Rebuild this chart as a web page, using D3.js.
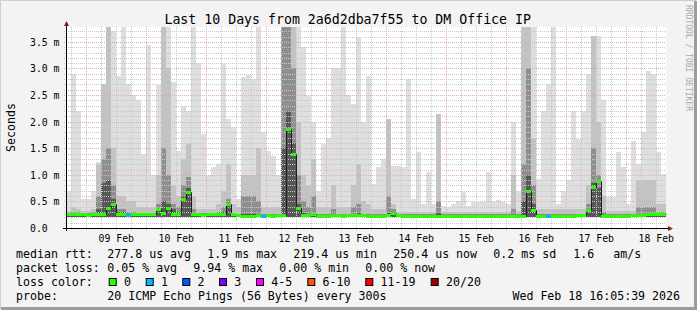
<!DOCTYPE html>
<html>
<head>
<meta charset="utf-8">
<script src="https://cdn.jsdelivr.net/npm/d3@7"></script>
<style>
body { margin: 0; background: #f3f3f3; }
svg text { font-family: "DejaVu Sans Mono", monospace; fill: #000; }
</style>
</head>
<body>
<div id="chart"></div>
<script>
// Step 1: data (2 hour columns, values in ms)
//= ================================
var startTime = new Date(Date.UTC(2026, 1, 8, 16, 5, 39));
var endTime = new Date(Date.UTC(2026, 1, 18, 16, 5, 39));
var stepMs = 2 * 3600 * 1000;
var minRtt = 0.21;

// lightest smoke (max ping)
var smokeTop = [
    0.7, 2.9, 2.2, 0.55, 0.55, 0.7, 1.24, 2.7, 3.8, 3.7,
    2.85, 3.8, 2.7, 2.5, 2.4, 1.4, 3.45, 1.0, 2.68, 3.8,
    3.8, 2.74, 1.45, 2.3, 2.2, 3.8, 3.1, 1.77, 1.0, 1.15,
    1.2, 3.09, 2.05, 1.9, 0.55, 2.84, 2.87, 2.8, 3.8, 1.8,
    1.45, 1.35, 1.0, 3.8, 3.8, 3.8, 3.8, 3.4, 2.49, 2.0,
    0.7, 1.58, 1.7, 3.0, 3.0, 3.8, 2.5, 2.33, 3.6, 2.0,
    2.85, 0.83, 1.14, 1.3, 2.05, 1.17, 1.17, 1.14, 2.8, 0.55,
    1.42, 0.45, 1.05, 0.45, 2.15, 0.42, 0.4, 0.45, 0.5, 0.68,
    0.42, 0.48, 0.48, 0.48, 1.05, 0.48, 0.52, 0.48, 0.45, 1.99,
    0.7, 3.8, 3.8, 3.8, 0.92, 2.2, 2.7, 3.8, 0.45, 0.7,
    0.9, 2.2, 1.68, 2.2, 2.9, 3.62, 3.62, 2.4, 0.58, 0.58,
    1.42, 1.14, 0.45, 1.64, 1.2, 1.8, 2.96, 2.9, 1.42, 1.02
];
// second smoke band
var smokeMid = [
    0.32, 0.4, 0.35, 0.32, 0.32, 0.35, 1.2, 2.7, 3.8, 1.5,
    0.6, 0.6, 0.5, 0.5, 0.4, 0.4, 0.4, 0.4, 1.0, 3.8,
    3.0, 0.8, 0.6, 1.3, 1.6, 0.6, 0.35, 0.35, 0.35, 0.35,
    0.45, 0.7, 1.2, 0.45, 0.4, 1.0, 1.0, 1.0, 1.5, 0.4,
    0.4, 0.4, 0.4, 3.8, 3.8, 3.8, 2.0, 1.0, 0.8, 1.3,
    0.4, 0.4, 0.4, 0.8, 0.4, 0.4, 0.4, 0.8, 1.2, 0.5,
    0.45, 0.35, 0.35, 0.35, 2.05, 0.45, 0.3, 0.3, 0.3, 0.3,
    0.3, 0.3, 0.3, 0.3, 2.15, 0.3, 0.3, 0.3, 0.3, 0.3,
    0.3, 0.3, 0.3, 0.3, 0.3, 0.3, 0.3, 0.3, 0.3, 1.0,
    0.32, 3.8, 3.8, 1.7, 0.35, 0.35, 0.35, 0.35, 0.35, 0.35,
    0.35, 0.35, 0.35, 0.35, 0.8, 3.62, 2.0, 0.6, 0.32, 0.32,
    0.32, 0.32, 0.32, 0.32, 0.9, 0.9, 0.9, 0.9, 0.45, 0.45
];
// third smoke band
var smokeDark = [
    0.28, 0.3, 0.3, 0.28, 0.28, 0.3, 0.6, 1.3, 1.5, 0.8,
    0.35, 0.35, 0.3, 0.3, 0.28, 0.28, 0.28, 0.28, 0.45, 1.5,
    1.0, 0.45, 0.4, 0.8, 0.95, 0.35, 0.28, 0.28, 0.28, 0.28,
    0.3, 0.4, 0.55, 0.27, 0.26, 0.6, 0.6, 0.6, 0.5, 0.26,
    0.26, 0.26, 0.26, 3.8, 3.8, 3.0, 1.0, 0.5, 0.4, 0.6,
    0.26, 0.26, 0.26, 0.35, 0.26, 0.26, 0.26, 0.4, 0.45, 0.26,
    0.26, 0.26, 0.26, 0.26, 0.6, 0.35, 0.26, 0.26, 0.26, 0.26,
    0.26, 0.26, 0.26, 0.26, 0.5, 0.26, 0.26, 0.26, 0.26, 0.26,
    0.26, 0.26, 0.26, 0.26, 0.26, 0.26, 0.26, 0.26, 0.26, 0.35,
    0.26, 1.2, 3.0, 0.8, 0.26, 0.26, 0.26, 0.26, 0.26, 0.26,
    0.26, 0.26, 0.26, 0.26, 0.45, 1.5, 1.0, 0.3, 0.26, 0.26,
    0.26, 0.26, 0.26, 0.26, 0.4, 0.4, 0.4, 0.4, 0.3, 0.3
];
// darkest smoke band
var smokeCore = [
    0.26, 0.26, 0.26, 0.26, 0.26, 0.26, 0.35, 0.85, 0.9, 0.55,
    0.3, 0.3, 0.26, 0.26, 0.26, 0.26, 0.26, 0.26, 0.32, 0.5,
    0.45, 0.35, 0.3, 0.6, 0.75, 0.26, 0.26, 0.26, 0.26, 0.26,
    0.26, 0.3, 0.45, 0.25, 0.24, 0.26, 0.26, 0.26, 0.25, 0.24,
    0.24, 0.24, 0.24, 1.5, 2.2, 1.6, 0.45, 0.28, 0.26, 0.28,
    0.24, 0.24, 0.24, 0.25, 0.24, 0.24, 0.24, 0.26, 0.28, 0.24,
    0.24, 0.24, 0.24, 0.24, 0.28, 0.31, 0.24, 0.24, 0.24, 0.24,
    0.24, 0.24, 0.24, 0.24, 0.28, 0.24, 0.24, 0.24, 0.24, 0.24,
    0.24, 0.24, 0.24, 0.24, 0.24, 0.24, 0.24, 0.24, 0.24, 0.24,
    0.24, 0.5, 1.0, 0.45, 0.24, 0.24, 0.24, 0.24, 0.24, 0.24,
    0.24, 0.24, 0.24, 0.24, 0.33, 0.85, 0.75, 0.25, 0.24, 0.24,
    0.24, 0.24, 0.24, 0.24, 0.27, 0.27, 0.27, 0.27, 0.26, 0.26
];
// median rtt
var median = [
    0.26, 0.26, 0.26, 0.26, 0.25, 0.26, 0.26, 0.27, 0.37, 0.45,
    0.27, 0.26, 0.24, 0.26, 0.26, 0.26, 0.27, 0.27, 0.35, 0.29,
    0.37, 0.27, 0.26, 0.55, 0.67, 0.26, 0.26, 0.25, 0.26, 0.26,
    0.27, 0.27, 0.45, 0.26, 0.24, 0.23, 0.23, 0.23, 0.24, 0.23,
    0.24, 0.23, 0.24, 0.24, 1.86, 1.4, 0.37, 0.24, 0.24, 0.27,
    0.23, 0.23, 0.23, 0.24, 0.24, 0.23, 0.24, 0.24, 0.25, 0.24,
    0.23, 0.23, 0.23, 0.23, 0.24, 0.28, 0.24, 0.23, 0.23, 0.23,
    0.23, 0.23, 0.22, 0.22, 0.23, 0.23, 0.23, 0.22, 0.23, 0.23,
    0.23, 0.23, 0.22, 0.23, 0.23, 0.23, 0.22, 0.22, 0.23, 0.23,
    0.23, 0.23, 0.7, 0.33, 0.23, 0.23, 0.23, 0.23, 0.22, 0.22,
    0.23, 0.23, 0.24, 0.25, 0.33, 0.78, 0.89, 0.23, 0.23, 0.23,
    0.23, 0.23, 0.23, 0.24, 0.24, 0.25, 0.26, 0.27, 0.26, 0.26
];
// lost pings per column (index into lossColors)
var lossBucket = d3.range(median.length).map(function() { return 0; });
lossBucket[12] = 1;
lossBucket[39] = 1;
lossBucket[96] = 1;

var lossLabels = ["0", "1", "2", "3", "4-5", "6-10", "11-19", "20/20"];
var lossColors = ["#26ff00", "#00b8ff", "#0059ff", "#7e00ff", "#ff00ff", "#ff5500", "#ff0000", "#a10000"];
var yTickValues = [0, 0.5, 1.0, 1.5, 2.0, 2.5, 3.0, 3.5];

var titleText = "Last 10 Days from 2a6d2dba7f55 to DM Office IP";
var statLines = [
    [["median rtt:", 16], ["277.8 us avg", 107.3], ["1.9 ms max", 207.3], ["219.4 us min", 293.3],
     ["250.4 us now", 393.3], ["0.2 ms sd", 493.3], ["1.6", 573.3], ["am/s", 613.3]],
    [["packet loss:", 16], ["0.05 % avg", 107.3], ["9.94 % max", 193.3], ["0.00 % min", 279.3], ["0.00 % now", 365.3]],
    [["loss color:", 16]],
    [["probe:", 16], ["20 ICMP Echo Pings (56 Bytes) every 300s", 107.3]]
];
var stampText = "Wed Feb 18 16:05:39 2026";

// Step 2: svg, scales
//= ================================
var svgWidth = 697;
var svgHeight = 310;
var plot = { left: 66, right: 666, top: 27, bottom: 228 };

var svg = d3.select("#chart")
    .append("svg")
    .attr("width", svgWidth)
    .attr("height", svgHeight);

svg.append("rect").attr("width", svgWidth).attr("height", svgHeight).attr("fill", "#f3f3f3");
// 3d border
svg.append("path").attr("d", "M0.5,309 V0.5 H696").attr("fill", "none").attr("stroke", "#cfcfcf");
svg.append("path").attr("d", "M1,308.5 H695.5 V1").attr("fill", "none").attr("stroke", "#9c9c9c").attr("stroke-width", 3);

svg.append("rect")
    .attr("x", plot.left).attr("y", plot.top)
    .attr("width", plot.right - plot.left).attr("height", plot.bottom - plot.top)
    .attr("fill", "#ffffff");

var times = median.map(function(d, i) { return new Date(+startTime + i * stepMs); });

var xScale = d3.scaleUtc().domain([startTime, endTime]).range([plot.left, plot.right]);
var yScale = d3.scaleLinear().domain([0, 3.78]).range([plot.bottom, plot.top]).clamp(true);

// Step 3: smoke
//= ================================
var bands = [
    { values: smokeTop, color: "#dedede" },
    { values: smokeMid, color: "#c2c2c2" },
    { values: smokeDark, color: "#8f8f8f" },
    { values: smokeCore, color: "#585858" }
];
bands.forEach(function(band) {
    svg.append("g")
        .attr("shape-rendering", "crispEdges")
        .selectAll("rect")
        .data(band.values)
        .enter()
        .append("rect")
        .attr("x", function(d, i) { return xScale(times[i]); })
        .attr("width", function(d, i) { return xScale(new Date(+times[i] + stepMs)) - xScale(times[i]); })
        .attr("y", function(d) { return yScale(d); })
        .attr("height", function(d) { return yScale(minRtt) - yScale(d); })
        .attr("fill", band.color);
});

// Step 4: grid on top of the smoke
//= ================================
var grid = svg.append("g").attr("shape-rendering", "crispEdges").attr("stroke-dasharray", "1,1");
var minorY = d3.range(1, 38).map(function(i) { return i / 10; }).filter(function(v, i) { return (i + 1) % 5 !== 0; });
var majorY = yTickValues.slice(1);
var dayLines = d3.utcDay.range(startTime, endTime);
var sixHours = d3.utcHour.every(6).range(startTime, endTime).filter(function(t) { return t.getUTCHours() !== 0; });

grid.selectAll(".minor-y").data(minorY).enter().append("line")
    .attr("x1", plot.left - 2).attr("x2", plot.right)
    .attr("y1", function(d) { return Math.round(yScale(d)) + 0.5; })
    .attr("y2", function(d) { return Math.round(yScale(d)) + 0.5; })
    .attr("stroke", "#c8c8c8");
grid.selectAll(".minor-x").data(sixHours).enter().append("line")
    .attr("x1", function(d) { return Math.round(xScale(d)) + 0.5; })
    .attr("x2", function(d) { return Math.round(xScale(d)) + 0.5; })
    .attr("y1", plot.top).attr("y2", plot.bottom + 2)
    .attr("stroke", "#c8c8c8");
grid.selectAll(".major-y").data(majorY).enter().append("line")
    .attr("x1", plot.left - 2).attr("x2", plot.right)
    .attr("y1", function(d) { return Math.round(yScale(d)) + 0.5; })
    .attr("y2", function(d) { return Math.round(yScale(d)) + 0.5; })
    .attr("stroke", "#e6a8a8");
grid.selectAll(".major-x").data(dayLines).enter().append("line")
    .attr("x1", function(d) { return Math.round(xScale(d)) + 0.5; })
    .attr("x2", function(d) { return Math.round(xScale(d)) + 0.5; })
    .attr("y1", plot.top).attr("y2", plot.bottom + 3)
    .attr("stroke", "#e6a8a8");

// Step 5: median line with loss colour marks
//= ================================
var medianPoints = median.map(function(d, i) { return { t: times[i], v: d }; });
medianPoints.push({ t: endTime, v: median[median.length - 1] });

svg.append("path")
    .datum(medianPoints)
    .attr("fill", "none")
    .attr("stroke", "#202020")
    .attr("stroke-width", 1)
    .attr("d", d3.line()
        .x(function(d) { return Math.round(xScale(d.t)) + 0.5; })
        .y(function(d) { return Math.round(yScale(d.v)) + 0.5; })
        .curve(d3.curveStepAfter));

svg.append("g")
    .attr("shape-rendering", "crispEdges")
    .selectAll("rect")
    .data(median)
    .enter()
    .append("rect")
    .attr("x", function(d, i) { return xScale(times[i]); })
    .attr("width", function(d, i) { return xScale(new Date(+times[i] + stepMs)) - xScale(times[i]); })
    .attr("y", function(d) { return Math.round(yScale(d)) - 1; })
    .attr("height", 3)
    .attr("fill", function(d, i) { return lossColors[lossBucket[i]]; });

// Step 6: axes
//= ================================
svg.append("line").attr("x1", plot.left - 3).attr("x2", plot.right + 2)
    .attr("y1", plot.bottom + 0.5).attr("y2", plot.bottom + 0.5).attr("stroke", "#000");
svg.append("line").attr("x1", plot.left + 0.5).attr("x2", plot.left + 0.5)
    .attr("y1", plot.bottom + 3).attr("y2", plot.top - 2).attr("stroke", "#000");
svg.append("path").attr("d", "M" + (plot.right + 2) + "," + (plot.bottom - 2) + " L" + (plot.right + 7) + "," + (plot.bottom + 0.5) + " L" + (plot.right + 2) + "," + (plot.bottom + 3) + "Z")
    .attr("fill", "#8b1a1a");
svg.append("path").attr("d", "M" + (plot.left - 2) + "," + (plot.top - 1) + " L" + (plot.left + 0.5) + "," + (plot.top - 6) + " L" + (plot.left + 3) + "," + (plot.top - 1) + "Z")
    .attr("fill", "#8b1a1a");

var noonTicks = dayLines.map(function(d) { return d3.utcHour.offset(d, 12); })
    .filter(function(d) { return d < endTime; });

var xAxis = svg.append("g")
    .attr("transform", "translate(0," + plot.bottom + ")")
    .call(d3.axisBottom(xScale).tickValues(noonTicks).tickFormat(d3.utcFormat("%d %b")).tickSize(0));
xAxis.select(".domain").remove();
xAxis.selectAll("text")
    .attr("y", 13.7).attr("dy", null)
    .style("font-family", "DejaVu Sans Mono").style("font-size", "9.8px").attr("fill", "#000");

var yAxis = svg.append("g")
    .attr("transform", "translate(" + plot.left + ",0)")
    .call(d3.axisLeft(yScale).tickValues(yTickValues)
        .tickFormat(function(d) { return d === 0 ? "0.0" : d3.format(".1f")(d) + " m"; })
        .tickSize(0));
yAxis.select(".domain").remove();
yAxis.selectAll("text")
    .attr("text-anchor", "start").attr("x", 30 - plot.left).attr("dy", null).attr("y", 3.5)
    .style("font-family", "DejaVu Sans Mono").style("font-size", "9.8px").attr("fill", "#000");

svg.append("text")
    .attr("transform", "translate(15," + ((plot.top + plot.bottom) / 2) + ") rotate(-90)")
    .attr("text-anchor", "middle")
    .style("font-size", "11.6px")
    .text("Seconds");

// Step 7: title, legend
//= ================================
svg.append("text")
    .attr("x", 347.7).attr("y", 23.5)
    .attr("text-anchor", "middle")
    .style("font-size", "13.24px")
    .text(titleText);

svg.append("text")
    .attr("transform", "translate(686,5) rotate(90)")
    .style("font-size", "8px")
    .style("fill", "#a8a8a8")
    .text("RRDTOOL / TOBI OETIKER");

statLines.forEach(function(line, row) {
    line.forEach(function(item) {
        svg.append("text")
            .attr("x", item[1])
            .attr("y", 258 + row * 14)
            .style("font-size", "11.6px")
            .text(item[0]);
    });
});

var boxX = [108.7, 145.7, 182.3, 219, 256, 307.3, 365.3, 430.7];
var legend = svg.append("g").selectAll("g")
    .data(lossLabels)
    .enter()
    .append("g");
legend.append("rect")
    .attr("x", function(d, i) { return boxX[i] + 0.5; })
    .attr("y", 278.5)
    .attr("width", 7).attr("height", 7)
    .attr("fill", function(d, i) { return lossColors[i]; })
    .attr("stroke", "#000");
legend.append("text")
    .attr("x", function(d, i) { return boxX[i] + 15.3; })
    .attr("y", 286)
    .style("font-size", "11.6px")
    .text(function(d) { return d; });

svg.append("text")
    .attr("x", 680).attr("y", 300)
    .attr("text-anchor", "end")
    .style("font-size", "11.6px")
    .text(stampText);
</script>
</body>
</html>
